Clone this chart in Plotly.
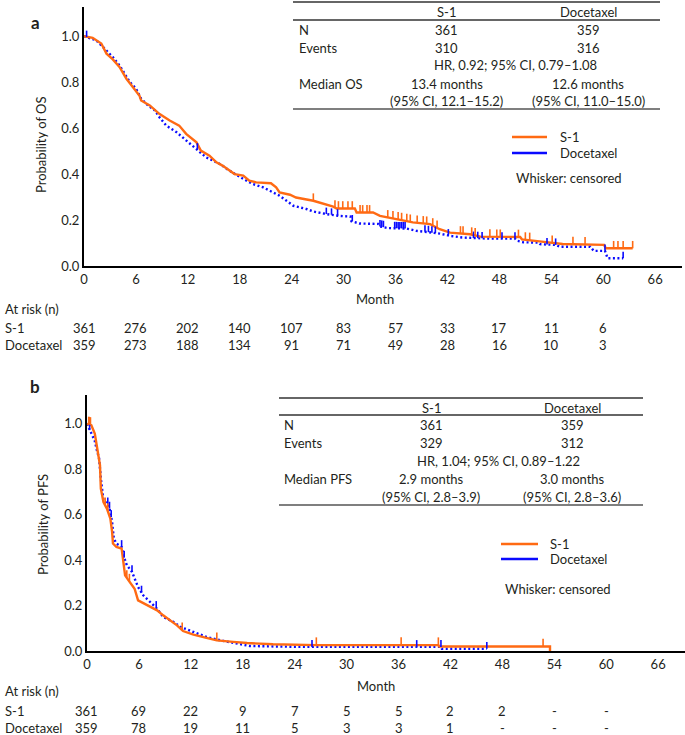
import numpy as np
import plotly.graph_objects as go

W, H = 685, 735
FONT = "Lato"
TXT = "#231f20"
ORANGE = "#ff6a13"
BLUE = "#0a0aff"

# ---------------- data ----------------
month_ticks = [0, 6, 12, 18, 24, 30, 36, 42, 48, 54, 60, 66]
risk_months = [0, 6, 12, 18, 24, 30, 36, 42, 48, 54, 60]

# Overall survival, S-1
os_s1_t = [0, 1.0, 2.0, 2.4, 2.6, 3.3, 4.1, 4.9, 5.8, 6.4, 6.6, 7.6, 8.7, 9.9, 11.0, 11.8,
           13.0, 13.5, 14.5, 15.3, 16.0, 16.8, 17.4, 18.4, 19.1, 19.9, 21.6, 22.2, 22.6,
           23.8, 24.5, 26.5, 27.6, 28.8, 29.2, 31.3, 31.5, 33.4, 34.2, 36.1, 38.0, 40.0,
           41.1, 42.3, 44.6, 45.8, 50.4, 50.6, 52.2, 53.4, 55.3, 60.1, 60.3, 63.4]
os_s1_s = [1.0, 0.993, 0.968, 0.939, 0.924, 0.90, 0.866, 0.815, 0.772, 0.742, 0.72, 0.699,
           0.662, 0.633, 0.611, 0.575, 0.538, 0.502, 0.48, 0.451, 0.437, 0.415, 0.40, 0.393,
           0.371, 0.364, 0.36, 0.342, 0.32, 0.31, 0.298, 0.284, 0.272, 0.258, 0.25, 0.25,
           0.233, 0.233, 0.218, 0.204, 0.19, 0.182, 0.16, 0.145, 0.138, 0.128, 0.126, 0.116,
           0.111, 0.104, 0.096, 0.092, 0.077, 0.077]
os_s1_cens = [26.5, 29.0, 29.4, 29.9, 30.5, 31.0, 31.9, 32.2, 32.7, 33.0, 35.1, 35.7, 36.3,
              36.7, 37.3, 37.7, 38.5, 39.2, 39.6, 40.3, 40.8, 43.5, 43.8, 44.8, 45.2, 46.9,
              47.7, 48.1, 50.2, 51.0, 51.5, 54.1, 56.5, 57.9, 61.2, 61.7, 62.3, 63.4]

# Overall survival, Docetaxel
os_doc_t = [0, 1.4, 2.2, 2.8, 3.3, 4.1, 5.3, 6.0, 6.6, 7.4, 8.2, 8.7, 9.5, 10.7, 11.8, 13.0,
            14.1, 15.7, 16.8, 18.4, 19.5, 20.7, 21.4, 22.6, 23.4, 24.2, 25.7, 26.5, 28.0,
            29.5, 30.8, 30.9, 31.8, 34.0, 34.2, 35.1, 37.3, 38.4, 39.6, 41.1, 42.3, 43.7,
            46.9, 49.8, 50.0, 50.8, 52.5, 52.7, 54.5, 55.0, 58.5, 58.9, 60.2, 60.5, 62.3]
os_doc_s = [1.0, 0.982, 0.953, 0.931, 0.91, 0.873, 0.80, 0.772, 0.728, 0.699, 0.677, 0.648,
            0.611, 0.582, 0.546, 0.51, 0.473, 0.444, 0.415, 0.379, 0.357, 0.342, 0.328,
            0.306, 0.284, 0.262, 0.248, 0.237, 0.226, 0.218, 0.215, 0.195, 0.185, 0.183,
            0.172, 0.165, 0.163, 0.153, 0.148, 0.141, 0.131, 0.124, 0.119, 0.119, 0.11,
            0.103, 0.102, 0.095, 0.092, 0.084, 0.084, 0.066, 0.066, 0.034, 0.034]
os_doc_cens = [0.3, 13.1, 28.0, 28.6, 29.3, 31.0, 34.2, 34.4, 34.6, 35.9, 36.1, 36.3, 36.5,
               36.7, 36.9, 37.1, 39.4, 39.8, 40.2, 40.6, 42.1, 45.0, 45.5, 46.0, 48.3, 49.8,
               53.5, 54.5, 60.2, 62.3]

# Progression-free survival, S-1
pfs_s1_t = [0, 0.5, 0.9, 1.1, 1.3, 1.5, 1.6, 1.9, 2.3, 2.7, 2.9, 3.0, 3.4, 4.0, 4.2, 4.4,
            4.8, 5.5, 5.9, 6.7, 7.3, 8.1, 8.8, 9.6, 10.4, 11.1, 12.3, 13.8, 15.0, 16.9,
            18.5, 21.5, 26.5, 40.6, 40.7, 53.5, 53.5]
pfs_s1_s = [1.0, 0.994, 0.957, 0.906, 0.862, 0.818, 0.715, 0.656, 0.627, 0.583, 0.524,
            0.473, 0.458, 0.451, 0.392, 0.333, 0.311, 0.274, 0.223, 0.208, 0.194, 0.179,
            0.157, 0.135, 0.113, 0.088, 0.072, 0.058, 0.047, 0.04, 0.035, 0.03, 0.026,
            0.026, 0.02, 0.02, 0.0]
pfs_s1_cens = [0.2, 0.3, 0.4, 2.1, 2.4, 4.6, 4.9, 11.0, 15.0, 26.5, 36.3, 40.6, 52.7]

# Progression-free survival, Docetaxel
pfs_doc_t = [0, 0.5, 0.9, 1.1, 1.4, 1.6, 1.7, 1.9, 2.5, 2.7, 2.9, 3.1, 3.4, 4.0, 4.2, 4.6,
             5.2, 5.5, 5.9, 6.5, 7.3, 8.1, 8.8, 10.0, 10.8, 12.3, 13.8, 15.4, 18.8, 24.6,
             40.9, 41.0, 46.2]
pfs_doc_s = [1.0, 0.954, 0.925, 0.89, 0.847, 0.759, 0.715, 0.664, 0.642, 0.612, 0.568,
             0.495, 0.473, 0.458, 0.422, 0.378, 0.348, 0.319, 0.282, 0.245, 0.216, 0.186,
             0.15, 0.128, 0.106, 0.084, 0.062, 0.047, 0.022, 0.018, 0.018, 0.01, 0.01]
pfs_doc_cens = [0.3, 2.4, 2.6, 2.8, 4.0, 4.3, 5.2, 6.3, 8.0, 26.0, 38.1, 40.9, 46.2]

risk_os_s1 = ["361", "276", "202", "140", "107", "83", "57", "33", "17", "11", "6"]
risk_os_doc = ["359", "273", "188", "134", "91", "71", "49", "28", "16", "10", "3"]
risk_pfs_s1 = ["361", "69", "22", "9", "7", "5", "5", "2", "2", "-", "-"]
risk_pfs_doc = ["359", "78", "19", "11", "5", "3", "3", "1", "-", "-", "-"]

table_os = {"N": ["361", "359"], "Events": ["310", "316"],
            "HR": "HR, 0.92; 95% CI, 0.79\u20131.08",
            "Median": ["13.4 months", "12.6 months"],
            "CI": ["(95% CI, 12.1\u201315.2)", "(95% CI, 11.0\u201315.0)"]}
table_pfs = {"N": ["361", "359"], "Events": ["329", "312"],
             "HR": "HR, 1.04; 95% CI, 0.89\u20131.22",
             "Median": ["2.9 months", "3.0 months"],
             "CI": ["(95% CI, 2.8\u20133.9)", "(95% CI, 2.8\u20133.6)"]}

# ---------------- figure ----------------
fig = go.Figure()


def px_x(p):
    return p / W


def px_y(p):
    return 1 - p / H


def add_curve(t, s, color, dash, xa, ya):
    fig.add_trace(go.Scatter(x=t, y=s, mode="lines", xaxis=xa, yaxis=ya,
                             line=dict(color=color, width=2.4, dash=dash),
                             showlegend=False, hoverinfo="skip"))


def add_cens(cens, t, s, color, h, xa, ya):
    xs, ys = [], []
    for c in cens:
        v = float(np.interp(c, t, s))
        xs += [c, c, None]
        ys += [v, v + h, None]
    fig.add_trace(go.Scatter(x=xs, y=ys, mode="lines", xaxis=xa, yaxis=ya,
                             line=dict(color=color, width=1.6),
                             showlegend=False, hoverinfo="skip"))


DOT = "2px,2.5px"
add_curve(os_doc_t, os_doc_s, BLUE, DOT, "x", "y")
add_curve(os_s1_t, os_s1_s, ORANGE, "solid", "x", "y")
add_cens(os_doc_cens, os_doc_t, os_doc_s, BLUE, 0.028, "x", "y")
add_cens(os_s1_cens, os_s1_t, os_s1_s, ORANGE, 0.032, "x", "y")

add_curve(pfs_doc_t, pfs_doc_s, BLUE, DOT, "x2", "y2")
add_curve(pfs_s1_t, pfs_s1_s, ORANGE, "solid", "x2", "y2")
add_cens(pfs_doc_cens, pfs_doc_t, pfs_doc_s, BLUE, 0.03, "x2", "y2")
add_cens(pfs_s1_cens, pfs_s1_t, pfs_s1_s, ORANGE, 0.034, "x2", "y2")

axfont = dict(family=FONT, size=13, color=TXT)
xcommon = dict(range=[0, 69.1], tickvals=month_ticks, ticktext=[str(m) for m in month_ticks],
               showline=True, linecolor="black", linewidth=2, ticks="", showgrid=False,
               zeroline=False, tickfont=axfont, fixedrange=True, automargin=False)
ycommon = dict(tickvals=[0, 0.2, 0.4, 0.6, 0.8, 1.0], tickformat=".1f", showline=True,
               linecolor="black", linewidth=2, ticks="", showgrid=False, zeroline=False,
               tickfont=axfont, fixedrange=True, automargin=False)

fig.update_layout(
    width=W, height=H, margin=dict(l=0, r=0, t=0, b=0, pad=0),
    paper_bgcolor="white", plot_bgcolor="white", showlegend=False,
    font=dict(family=FONT, color=TXT),
    xaxis=dict(domain=[px_x(84), px_x(682)], anchor="y", **xcommon),
    yaxis=dict(domain=[px_y(266), px_y(7)], anchor="x", range=[0, 1.127], **ycommon),
    xaxis2=dict(domain=[px_x(87), px_x(685)], anchor="y2", **xcommon),
    yaxis2=dict(domain=[px_y(651), px_y(395)], anchor="x2", range=[0, 1.127], **ycommon),
)

ann = []
shapes = []


def text(s, px, py, xanchor="center", size=13, bold=False, angle=0):
    ann.append(dict(text=("<b>%s</b>" % s) if bold else s, x=px_x(px), y=px_y(py),
                    xref="paper", yref="paper", xanchor=xanchor, yanchor="middle",
                    showarrow=False, textangle=angle,
                    font=dict(family=FONT, size=size, color=TXT)))


def hline(x0, x1, py, color="#333333", width=1.3):
    shapes.append(dict(type="line", xref="paper", yref="paper", x0=px_x(x0), x1=px_x(x1),
                       y0=px_y(py), y1=px_y(py), line=dict(color=color, width=width)))


def panel(label, ylab, ylab_x, ylab_y, lab_y, tbl, tbl_geom, leg_geom, risk_geom,
          risk_s1, risk_doc, xref, median_lab):
    text(label, 35, lab_y, size=17, bold=True)
    text(ylab, ylab_x, ylab_y, size=13, angle=-90)
    # summary table
    (x0, x1, y_top, y_hdr_line, y_bot, y_hdr, y_n, y_ev, y_hr, y_med, y_ci,
     c1, c2, chr_, lab_x) = tbl_geom
    hline(x0, x1, y_top)
    hline(x0, x1, y_hdr_line)
    hline(x0, x1, y_bot, color="#555555", width=1.6)
    text("S-1", c1, y_hdr)
    text("Docetaxel", c2, y_hdr)
    text("N", lab_x, y_n, xanchor="left")
    text(tbl["N"][0], c1, y_n)
    text(tbl["N"][1], c2, y_n)
    text("Events", lab_x, y_ev, xanchor="left")
    text(tbl["Events"][0], c1, y_ev)
    text(tbl["Events"][1], c2, y_ev)
    text(tbl["HR"], chr_, y_hr)
    text(median_lab, lab_x, y_med, xanchor="left")
    text(tbl["Median"][0], c1, y_med)
    text(tbl["Median"][1], c2, y_med)
    text(tbl["CI"][0], c1, y_ci)
    text(tbl["CI"][1], c2, y_ci)
    # legend
    lx0, lx1, ly1, ly2, ltx, wx, wy = leg_geom
    hline(lx0, lx1, ly1, color=ORANGE, width=2.4)
    hline(lx0, lx1, ly2, color=BLUE, width=2.4)
    text("S-1", ltx, ly1, xanchor="left")
    text("Docetaxel", ltx, ly2, xanchor="left")
    text("Whisker: censored", wx, wy, xanchor="left")
    # month label and at-risk table
    mx, my, ay, sy, dy = risk_geom
    text("Month", mx, my)
    text("At risk (n)", 3, ay, xanchor="left")
    text("S-1", 3, sy, xanchor="left")
    text("Docetaxel", 3, dy, xanchor="left")
    for m, a, b in zip(risk_months, risk_s1, risk_doc):
        for val, yy in ((a, sy), (b, dy)):
            ann.append(dict(text=val, x=m, y=px_y(yy), xref=xref, yref="paper",
                            xanchor="center", yanchor="middle", showarrow=False,
                            font=dict(family=FONT, size=13, color=TXT)))


panel("a", "Probability of OS", 41, 145, 23, table_os,
      (293, 660, 2, 20, 109, 12, 30, 48, 65, 84, 101, 447, 588, 515, 297),
      (512, 547, 137, 153, 558, 514, 178),
      (375, 299, 309, 328, 345), risk_os_s1, risk_os_doc, "x", "Median OS")
panel("b", "Probability of PFS", 43, 525, 386, table_pfs,
      (279, 643, 398, 415, 505, 408, 425, 443, 461, 479, 497, 431, 572, 499, 282),
      (501, 538, 544, 559, 548, 503, 589),
      (376, 686, 691, 711, 728), risk_pfs_s1, risk_pfs_doc, "x2", "Median PFS")

fig.update_layout(annotations=ann, shapes=shapes)
fig.write_html("out.html", config={"displayModeBar": False},
               post_script="document.body.style.margin='0';document.body.style.padding='0';"
                           "window.dispatchEvent(new Event('resize'));")
